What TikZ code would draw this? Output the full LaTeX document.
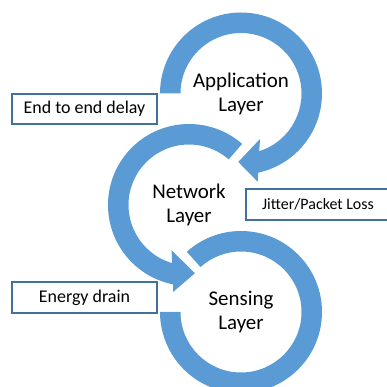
\documentclass[tikz,border=0pt]{standalone}
\usepackage{fontspec}
\setmainfont{Carlito}
\definecolor{ringblue}{HTML}{5B9BD5}
\definecolor{boxedge}{HTML}{41719C}
\tikzset{
  ring/.style={fill=ringblue, draw=none},
  layertext/.style={align=center, text=black, font=\fontsize{21}{24}\selectfont},
  issuebox/.style={draw=boxedge, line width=1.2bp, fill=white, inner sep=0pt},
  issuetext/.style={text=black, inner sep=0pt}
}
\begin{document}
\begin{tikzpicture}[x=1bp, y=1bp]
\useasboundingbox (0,0) rectangle (387,387);
\clip (0,0) rectangle (387,387);

% ring centres
\coordinate (appc) at (241,293.5);
\coordinate (netc) at (189,182);
\coordinate (senc) at (241,75);

% upper ring: clockwise, arrow head at the bottom pointing left
\begin{scope}[shift={(appc)}]
  \fill[ring] (180:81bp) arc[start angle=180, end angle=-77.7, radius=81bp]
    -- (-79.3:89.8bp) -- (-92.3:68.5bp) -- (-67.3:49.3bp)
    -- (-72.5:60.5bp) arc[start angle=-72.5, end angle=180, radius=60.5bp] -- cycle;
\end{scope}

% middle ring: counter-clockwise, arrow head at the bottom pointing right
\begin{scope}[shift={(netc)}]
  \fill[ring] (49:81bp) arc[start angle=49, end angle=258.7, radius=81bp]
    -- (259.6:88.5bp) -- (275:68.5bp) -- (249:48.5bp)
    -- (253.8:60.5bp) arc[start angle=253.8, end angle=49, radius=60.5bp] -- cycle;
\end{scope}

% lower ring: clockwise band without a head
\begin{scope}[shift={(senc)}]
  \fill[ring] (132:81bp) arc[start angle=132, end angle=-180, radius=81bp]
    -- (180:60.5bp) arc[start angle=-180, end angle=132, radius=60.5bp] -- cycle;
\end{scope}

% layer labels
\node[layertext] (app) at (appc) {Application\\Layer};
\node[layertext] (net) at (netc) {Network\\Layer};
\node[layertext] (sen) at (senc) {Sensing\\Layer};

% issue boxes
\node[issuebox, minimum width=145bp, minimum height=30bp] (delay) at (84.5,278) {};
\node[issuetext, font=\fontsize{18}{20}\selectfont] (delaytxt) at (delay.center) {End to end delay};

% this box runs past the right edge of the page
\node[issuebox, minimum width=152bp, minimum height=31bp] (jitter) at (322,182.5) {};
\node[issuetext, font=\fontsize{16}{18}\selectfont] (jittertxt) at (318,182.5) {Jitter/Packet Loss};

\node[issuebox, minimum width=145bp, minimum height=31bp] (energy) at (84.5,89.5) {};
\node[issuetext, font=\fontsize{18}{20}\selectfont] (energytxt) at (energy.center) {Energy drain};
\end{tikzpicture}
\end{document}
